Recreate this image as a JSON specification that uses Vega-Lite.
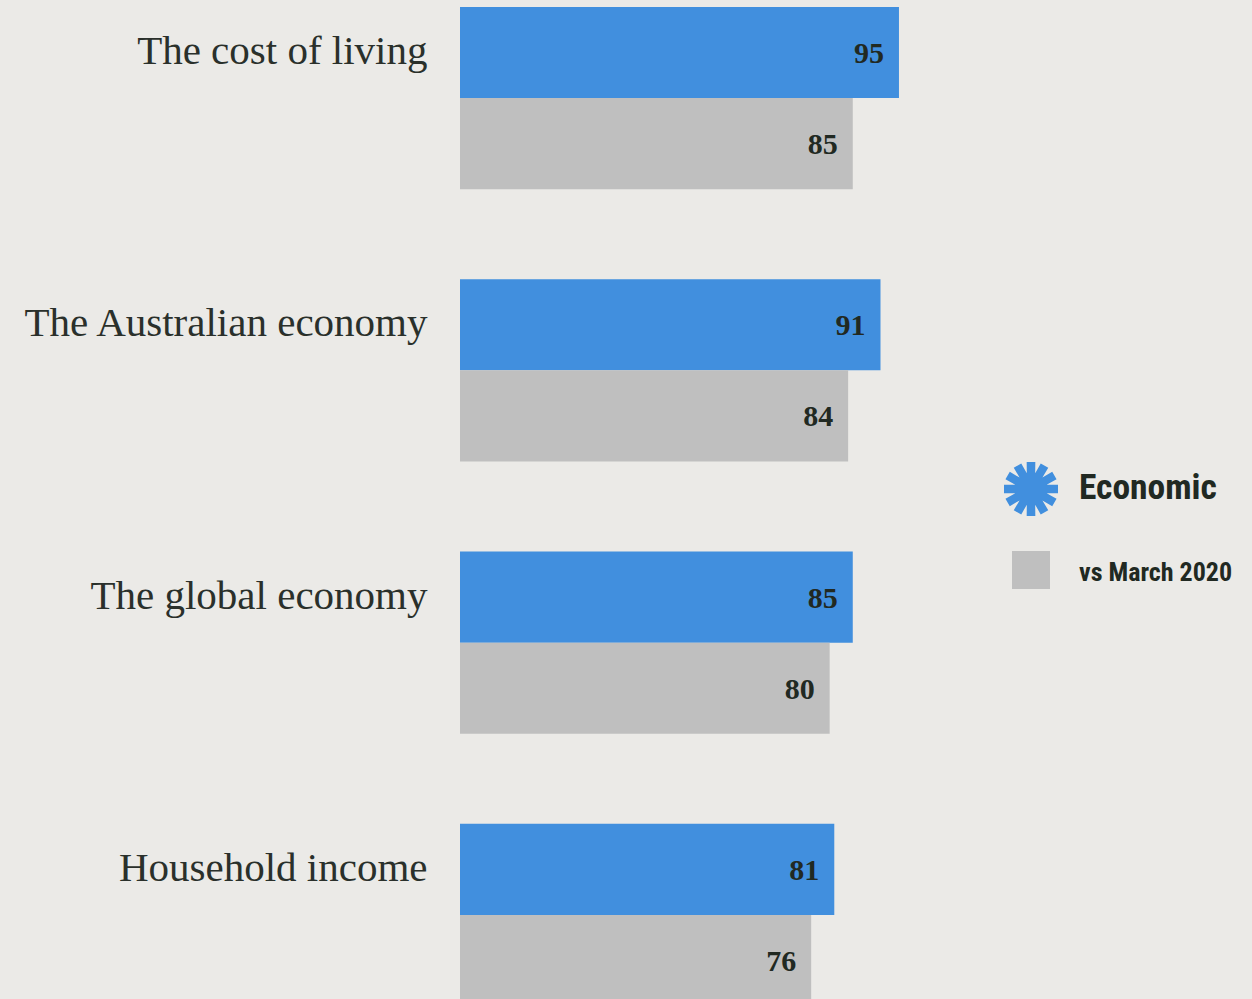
{
  "$schema": "https://vega.github.io/schema/vega-lite/v6.json",
  "width": 792,
  "height": 999,
  "autosize": {"type": "none"},
  "padding": {"left": 460, "top": 0, "right": 0, "bottom": 0},
  "background": "#EBEAE7",
  "view": {"stroke": null, "fill": null},
  "data": {
    "values": [
      {"topic": "The cost of living", "series": "Economic", "value": 95},
      {"topic": "The cost of living", "series": "vs March 2020", "value": 85},
      {"topic": "The Australian economy", "series": "Economic", "value": 91},
      {"topic": "The Australian economy", "series": "vs March 2020", "value": 84},
      {"topic": "The global economy", "series": "Economic", "value": 85},
      {"topic": "The global economy", "series": "vs March 2020", "value": 80},
      {"topic": "Household income", "series": "Economic", "value": 81},
      {"topic": "Household income", "series": "vs March 2020", "value": 76}
    ]
  },
  "encoding": {
    "y": {
      "field": "topic",
      "type": "nominal",
      "sort": null,
      "scale": {"range": [-38, 1051], "paddingInner": 0.331, "paddingOuter": 0.1654},
      "axis": {
        "title": null,
        "domain": false,
        "ticks": false,
        "grid": false,
        "labelPadding": 33,
        "labelOffset": -46,
        "labelLimit": 460,
        "labelFont": "Liberation Serif",
        "labelFontSize": 41,
        "labelColor": "#2A302B"
      }
    },
    "yOffset": {
      "field": "series",
      "type": "nominal",
      "sort": ["Economic", "vs March 2020"],
      "scale": {"paddingInner": 0, "paddingOuter": 0}
    },
    "x": {
      "field": "value",
      "type": "quantitative",
      "scale": {"domain": [0, 171.4], "nice": false, "zero": false},
      "axis": null
    }
  },
  "layer": [
    {
      "mark": {"type": "bar", "cornerRadius": 0},
      "encoding": {
        "color": {
          "field": "series",
          "type": "nominal",
          "sort": ["Economic", "vs March 2020"],
          "scale": {"domain": ["Economic", "vs March 2020"], "range": ["#418FDE", "#BFBFBF"]},
          "legend": {
            "title": null,
            "orient": "none",
            "legendX": 552,
            "legendY": 470,
            "symbolSize": 2916,
            "symbolOpacity": 1,
            "symbolStrokeWidth": 0,
            "rowPadding": 35,
            "labelOffset": 29,
            "labelFont": "Roboto Condensed, DejaVu Sans Condensed, Roboto, sans-serif",
            "labelFontWeight": "bold",
            "labelColor": "#212922",
            "labelLimit": 220,
            "encode": {
              "symbols": {
                "update": {
                  "shape": {"signal": "datum.value === 'Economic' ? 'M-.16,-1L.16,-1L.155,-.58L.361,-.946L.639,-.786L.424,-.424L.786,-.639L.946,-.361L.58,-.155L1,-.16L1,.16L.58,.155L.946,.361L.786,.639L.424,.424L.639,.786L.361,.946L.155,.58L.16,1L-.16,1L-.155,.58L-.361,.946L-.639,.786L-.424,.424L-.786,.639L-.946,.361L-.58,.155L-1,.16L-1,-.16L-.58,-.155L-.946,-.361L-.786,-.639L-.424,-.424L-.639,-.786L-.361,-.946L-.155,-.58Z' : 'square'"},
                  "size": {"signal": "datum.value === 'Economic' ? 2916 : 1444"}
                }
              },
              "labels": {
                "update": {
                  "fontSize": {"signal": "datum.value === 'Economic' ? 35.5 : 26"},
                  "dy": {"signal": "datum.value === 'Economic' ? -1 : 3"}
                }
              }
            }
          }
        }
      }
    },
    {
      "mark": {
        "type": "text",
        "align": "right",
        "baseline": "middle",
        "dx": -15,
        "dy": 1.5,
        "font": "Liberation Serif",
        "fontWeight": "bold",
        "fontSize": 30,
        "color": "#212922"
      },
      "encoding": {
        "text": {"field": "value", "type": "quantitative"}
      }
    }
  ]
}
